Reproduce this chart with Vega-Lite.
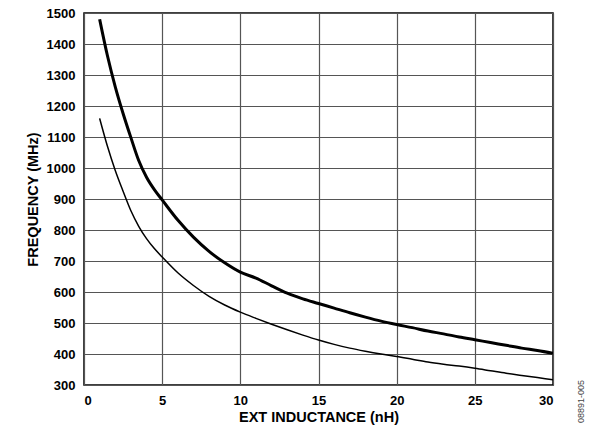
{
  "$schema": "https://vega.github.io/schema/vega-lite/v6.json",
  "autosize": {"type": "none"},
  "padding": {"left": 84, "top": 13, "right": 37, "bottom": 49},
  "width": 469,
  "height": 372,
  "background": "white",
  "config": {
    "font": "Liberation Sans",
    "view": {"stroke": "#000", "strokeWidth": 1.5},
    "axis": {
      "labelFont": "Liberation Sans",
      "titleFont": "Liberation Sans",
      "labelFontWeight": "bold",
      "titleFontWeight": "bold",
      "labelFontSize": 13,
      "titleFontSize": 14.5,
      "labelColor": "#000",
      "titleColor": "#000",
      "ticks": false,
      "domain": false,
      "gridColor": "#555",
      "gridWidth": 1.2,
      "gridOpacity": 1
    }
  },
  "datasets": {
    "curves": [
      {"series": "thick", "ind": 1, "freq": 1480},
      {"series": "thick", "ind": 1.5, "freq": 1362},
      {"series": "thick", "ind": 2, "freq": 1262},
      {"series": "thick", "ind": 2.5, "freq": 1176},
      {"series": "thick", "ind": 3, "freq": 1098},
      {"series": "thick", "ind": 3.5, "freq": 1024},
      {"series": "thick", "ind": 4, "freq": 970},
      {"series": "thick", "ind": 4.5, "freq": 930},
      {"series": "thick", "ind": 5, "freq": 897},
      {"series": "thick", "ind": 6, "freq": 832},
      {"series": "thick", "ind": 7, "freq": 777},
      {"series": "thick", "ind": 8, "freq": 731},
      {"series": "thick", "ind": 9, "freq": 694},
      {"series": "thick", "ind": 10, "freq": 664},
      {"series": "thick", "ind": 11, "freq": 645},
      {"series": "thick", "ind": 12, "freq": 620},
      {"series": "thick", "ind": 13, "freq": 596},
      {"series": "thick", "ind": 14, "freq": 578},
      {"series": "thick", "ind": 15, "freq": 563},
      {"series": "thick", "ind": 16, "freq": 548},
      {"series": "thick", "ind": 17, "freq": 533},
      {"series": "thick", "ind": 18, "freq": 519},
      {"series": "thick", "ind": 19, "freq": 506},
      {"series": "thick", "ind": 20, "freq": 495},
      {"series": "thick", "ind": 21, "freq": 485},
      {"series": "thick", "ind": 22, "freq": 474},
      {"series": "thick", "ind": 23, "freq": 465},
      {"series": "thick", "ind": 24, "freq": 455},
      {"series": "thick", "ind": 25, "freq": 446},
      {"series": "thick", "ind": 26, "freq": 437},
      {"series": "thick", "ind": 27, "freq": 428},
      {"series": "thick", "ind": 28, "freq": 419},
      {"series": "thick", "ind": 29, "freq": 411},
      {"series": "thick", "ind": 30, "freq": 402},
      {"series": "thin", "ind": 1, "freq": 1160},
      {"series": "thin", "ind": 1.5, "freq": 1070},
      {"series": "thin", "ind": 2, "freq": 992},
      {"series": "thin", "ind": 2.5, "freq": 925},
      {"series": "thin", "ind": 3, "freq": 862},
      {"series": "thin", "ind": 3.5, "freq": 812},
      {"series": "thin", "ind": 4, "freq": 772},
      {"series": "thin", "ind": 4.5, "freq": 740},
      {"series": "thin", "ind": 5, "freq": 713},
      {"series": "thin", "ind": 6, "freq": 662},
      {"series": "thin", "ind": 7, "freq": 621},
      {"series": "thin", "ind": 8, "freq": 586},
      {"series": "thin", "ind": 9, "freq": 558},
      {"series": "thin", "ind": 10, "freq": 535},
      {"series": "thin", "ind": 11, "freq": 515},
      {"series": "thin", "ind": 12, "freq": 496},
      {"series": "thin", "ind": 13, "freq": 478},
      {"series": "thin", "ind": 14, "freq": 461},
      {"series": "thin", "ind": 15, "freq": 445},
      {"series": "thin", "ind": 16, "freq": 431},
      {"series": "thin", "ind": 17, "freq": 419},
      {"series": "thin", "ind": 18, "freq": 409},
      {"series": "thin", "ind": 19, "freq": 400},
      {"series": "thin", "ind": 20, "freq": 392},
      {"series": "thin", "ind": 21, "freq": 383},
      {"series": "thin", "ind": 22, "freq": 374},
      {"series": "thin", "ind": 23, "freq": 367},
      {"series": "thin", "ind": 24, "freq": 361},
      {"series": "thin", "ind": 25, "freq": 354},
      {"series": "thin", "ind": 26, "freq": 346},
      {"series": "thin", "ind": 27, "freq": 338},
      {"series": "thin", "ind": 28, "freq": 331},
      {"series": "thin", "ind": 29, "freq": 324},
      {"series": "thin", "ind": 30, "freq": 317}
    ]
  },
  "data": {"name": "curves"},
  "resolve": {"axis": {"y": "independent"}},
  "layer": [
    {
      "mark": {"type": "line", "color": "#000", "interpolate": "monotone", "clip": true},
      "encoding": {
        "x": {
          "field": "ind",
          "type": "quantitative",
          "scale": {"domain": [0, 30], "nice": false, "zero": false},
          "axis": {"values": [0, 5, 10, 15, 20, 25, 30], "title": "EXT INDUCTANCE (nH)", "labelPadding": 9, "titlePadding": 3}
        },
        "y": {
          "field": "freq",
          "type": "quantitative",
          "scale": {"domain": [300, 1500], "nice": false, "zero": false},
          "axis": {"values": [300, 400, 500, 600, 700, 800, 900, 1000, 1100, 1200, 1300, 1400, 1500], "format": "d", "title": "FREQUENCY (MHz)", "labelPadding": 9, "titlePadding": 6}
        },
        "detail": {"field": "series", "type": "nominal"},
        "strokeWidth": {
          "field": "series",
          "type": "nominal",
          "scale": {"domain": ["thick", "thin"], "range": [3, 1.5]},
          "legend": null
        }
      }
    },
    {
      "mark": {"type": "line", "strokeOpacity": 0},
      "encoding": {
        "x": {"field": "ind", "type": "quantitative"},
        "y": {
          "field": "freq",
          "type": "quantitative",
          "axis": {
            "orient": "right",
            "labels": false,
            "grid": false,
            "ticks": false,
            "domain": false,
            "title": "08891-005",
            "titleAngle": -90,
            "titleFontSize": 9,
            "titleFontWeight": "normal",
            "titleColor": "#444",
            "titleAlign": "center",
            "titleBaseline": "middle",
            "titleX": 27,
            "titleY": 388
          }
        },
        "detail": {"field": "series", "type": "nominal"}
      }
    }
  ]
}
